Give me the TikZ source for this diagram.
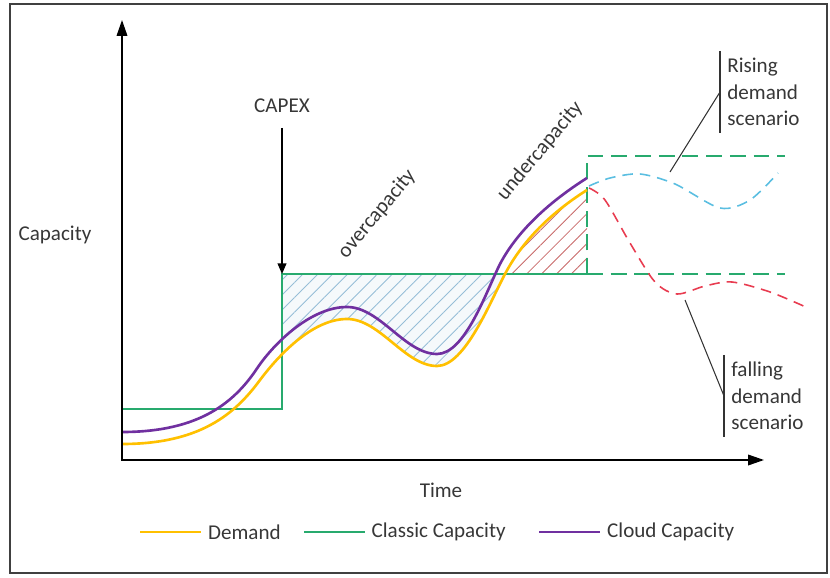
\documentclass[tikz,border=0pt]{standalone}
\usepackage{fontspec}
\setmainfont{Carlito}
\usetikzlibrary{arrows.meta,patterns.meta}

\definecolor{demandcol}{RGB}{255,192,0}
\definecolor{classiccol}{RGB}{40,170,110}
\definecolor{cloudcol}{RGB}{112,48,160}
\definecolor{risecol}{RGB}{90,190,225}
\definecolor{fallcol}{RGB}{232,60,80}
\definecolor{overhatch}{RGB}{150,190,215}
\definecolor{underhatch}{RGB}{200,105,105}
\definecolor{txtcol}{RGB}{55,55,55}

% demand curve, used for the drawing and the clips
\newcommand{\demandcurve}{(122,444) .. controls (200,444) and (235,414) .. (260,380)
  .. controls (278,356) and (312,319) .. (347,319)
  .. controls (380,319) and (405,366) .. (437,366)
  .. controls (465,366) and (490,302) .. (505,274)
  .. controls (525,236) and (557,209) .. (587,190)}

\begin{document}
\begin{tikzpicture}[x=0.02cm,y=-0.02cm,
  every node/.style={font=\fontsize{12}{15}\selectfont,text=txtcol},
  axis/.style={line width=0.9pt,{Triangle[length=9pt,width=6pt]}-{Triangle[length=9pt,width=6pt]}},
  capexarrow/.style={line width=0.7pt,-{Triangle[length=6pt,width=5pt]},shorten <=5pt},
  demand/.style={demandcol,line width=1.5pt},
  cloud/.style={cloudcol,line width=1.5pt},
  classic/.style={classiccol,line width=0.9pt},
  classicdash/.style={classic,dash pattern=on 9pt off 4.5pt},
  scenario/.style={line width=0.9pt,dash pattern=on 6pt off 4pt},
  leader/.style={black!80,line width=0.6pt},
  hatch/.style={pattern={Lines[angle=45,distance=6pt,line width=0.5pt]}}]

  \useasboundingbox (0,0) rectangle (830,577);
  \draw[black!75,line width=1pt] (10,4) rectangle (827,573);

  % overcapacity / undercapacity
  \begin{scope}
    \clip (282,274) rectangle (587,460);
    \clip \demandcurve -- (587,0) -- (122,0) -- cycle;
    \fill[overhatch!10] (282,274) rectangle (587,460);
    \fill[hatch,pattern color=overhatch] (282,274) rectangle (587,460);
  \end{scope}
  \begin{scope}
    \clip (480,150) rectangle (587,274);
    \clip \demandcurve -- (587,460) -- (122,460) -- cycle;
    \fill[hatch,pattern color=underhatch] (480,150) rectangle (587,274);
  \end{scope}

  \coordinate (O) at (122,460);
  \coordinate (ytip) at (122,20);
  \coordinate (xtip) at (764,460);
  \coordinate (capexpt) at (282,274);
  \coordinate (splitpt) at (587,274);

  \draw[classic] (122,409) -- (282,409) -- (capexpt) -- (splitpt);
  \draw[classicdash] (splitpt) -- (587,156) -- (785,156);
  \draw[classicdash] (splitpt) -- (785,274);

  \draw[demand] \demandcurve;
  \draw[cloud] (122,432) .. controls (200,432) and (235,402) .. (258,367)
    .. controls (276,341) and (312,307) .. (347,307)
    .. controls (380,307) and (405,354) .. (437,354)
    .. controls (465,354) and (486,292) .. (500,264)
    .. controls (520,226) and (557,197) .. (587,178);

  \draw[scenario,risecol] plot[smooth] coordinates {(589,186) (610,178) (640,174) (675,184) (720,208) (750,200) (778,173)};
  \draw[scenario,fallcol] plot[smooth] coordinates {(589,188) (605,200) (630,243) (655,282) (677,294) (705,286) (732,282) (770,292) (808,308)};

  \draw[axis] (ytip) -- (O) -- (xtip);

  \node (capacity) at (55,235) {Capacity};
  \node (time) at (441,490) {Time};
  \node (capex) at (282,106) {CAPEX};
  \draw[capexarrow] (capex) -- (capexpt);
  \node[rotate=50] (over) at (377,214) {overcapacity};
  \node[rotate=50] (under) at (540,151) {undercapacity};

  \node[anchor=west,align=left,inner sep=4pt] (rise) at (720,92) {Rising\\demand\\scenario};
  \draw[leader] (rise.north west) -- (rise.south west);
  \coordinate (risept) at (670,172);
  \draw[leader] (risept) -- (rise.west);

  \node[anchor=west,align=left,inner sep=4pt] (fall) at (724,396) {falling\\demand\\scenario};
  \draw[leader] (fall.north west) -- (fall.south west);
  \coordinate (fallpt) at (685,300);
  \draw[leader] (fallpt) -- (fall.west);

  % legend
  \foreach \sty/\xa/\txt [count=\i] in {demand/140/Demand,classic/304/Classic Capacity,cloud/539/Cloud Capacity} {
    \draw[\sty] (\xa,532) -- ++(61,0) node[right,name=leg\i] {\txt};
  }
\end{tikzpicture}
\end{document}
